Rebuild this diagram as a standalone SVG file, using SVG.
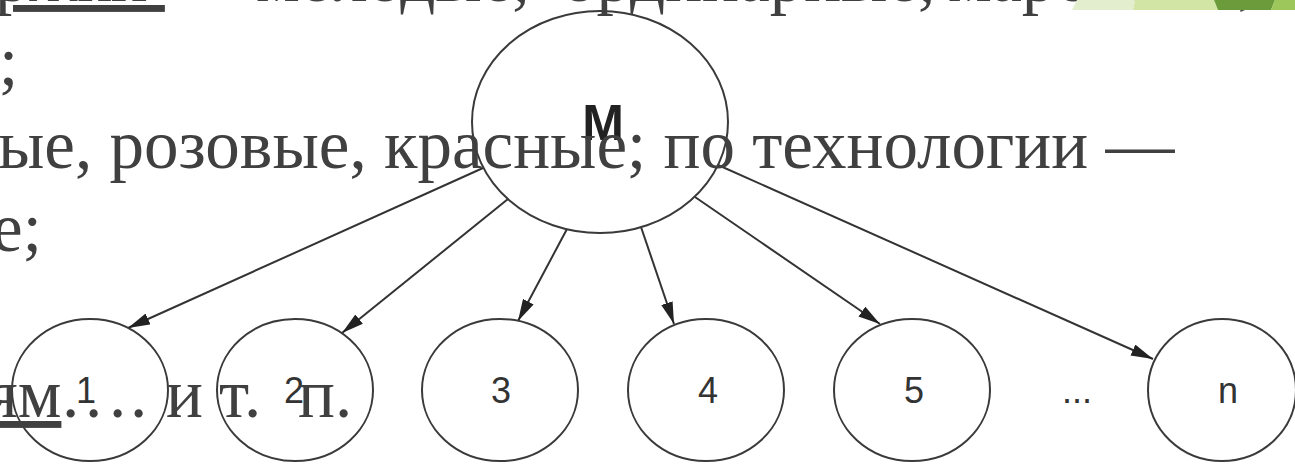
<svg xmlns="http://www.w3.org/2000/svg" width="1295" height="466" viewBox="0 0 1295 466">
<defs>
<style>
.slide{font-family:"Liberation Serif","Times New Roman",serif;font-size:69px;fill:#404040}
.ul{text-decoration:underline;text-decoration-thickness:5px}
.node ellipse{fill:none;stroke:#3a3a3a;stroke-width:2}
.lbl{font-family:"Liberation Sans",Arial,sans-serif;font-size:36px;fill:#333;text-anchor:middle}
.edge{stroke:#333;stroke-width:2;fill:none;marker-end:url(#arrow)}
</style>
<marker id="arrow" viewBox="0 0 22 12" refX="22" refY="6" markerWidth="22" markerHeight="12" markerUnits="userSpaceOnUse" orient="auto">
<path d="M0,0 L22,6 L0,12 z" fill="#222"/>
</marker>
</defs>
<rect width="1295" height="466" fill="#ffffff"/>

<g id="connectors">
<line class="edge" x1="483" y1="168" x2="128" y2="328"/>
<line class="edge" x1="508" y1="199" x2="342" y2="333"/>
<line class="edge" x1="567" y1="229" x2="518" y2="321"/>
<line class="edge" x1="641" y1="227" x2="674" y2="324"/>
<line class="edge" x1="695" y1="197" x2="880" y2="324"/>
<line class="edge" x1="718" y1="165" x2="1153" y2="359"/>
</g>

<g id="node-M" class="node">
<ellipse cx="600" cy="122" rx="128" ry="111"/>
<text x="603" y="140" text-anchor="middle" style="font-family:'Liberation Sans',Arial,sans-serif;font-size:50px;font-weight:bold;fill:#222">M</text>
</g>
<g id="node-1" class="node"><ellipse cx="90" cy="390" rx="78" ry="71"/><text class="lbl" x="86" y="403">1</text></g>
<g id="node-2" class="node"><ellipse cx="295" cy="390" rx="78" ry="71"/><text class="lbl" x="294" y="403">2</text></g>
<g id="node-3" class="node"><ellipse cx="500" cy="390" rx="78" ry="71"/><text class="lbl" x="501" y="403">3</text></g>
<g id="node-4" class="node"><ellipse cx="706" cy="390" rx="78" ry="71"/><text class="lbl" x="708" y="403">4</text></g>
<g id="node-5" class="node"><ellipse cx="912" cy="390" rx="78" ry="71"/><text class="lbl" x="914" y="403">5</text></g>
<g id="node-ellipsis"><text class="lbl" x="1077" y="403">...</text></g>
<g id="node-n" class="node"><ellipse cx="1222" cy="390" rx="74" ry="71"/><text class="lbl" x="1228" y="403">n</text></g>

<g id="slide-text" class="slide">
<text y="1"><tspan class="ul" x="-5">ржки </tspan><tspan x="190">—</tspan><tspan x="256">молодые,</tspan><tspan x="562">ординарные,</tspan><tspan x="948">марочные,</tspan></text>
<text x="-1" y="85">;</text>
<text x="-2" y="168">ые, розовые, красные; по технологии —</text>
<text x="-8" y="251">е;</text>
<text y="417"><tspan class="ul" x="-14">ям</tspan><tspan x="62 85 109 130">....</tspan><tspan x="166">и</tspan><tspan x="219">т.</tspan><tspan x="298">п.</tspan></text>
</g>

<g id="decor">
<polygon points="1077,0 1135,0 1133,10 1072,10" fill="#e3eecf"/>
<polygon points="1135,0 1214,0 1218,10 1133,10" fill="#d3e5a5"/>
<polygon points="1214,0 1275,0 1271,10 1218,10" fill="#6b9b3a"/>
<polygon points="1275,0 1295,0 1295,10 1271,10" fill="#9dc75b"/>
</g>
</svg>
